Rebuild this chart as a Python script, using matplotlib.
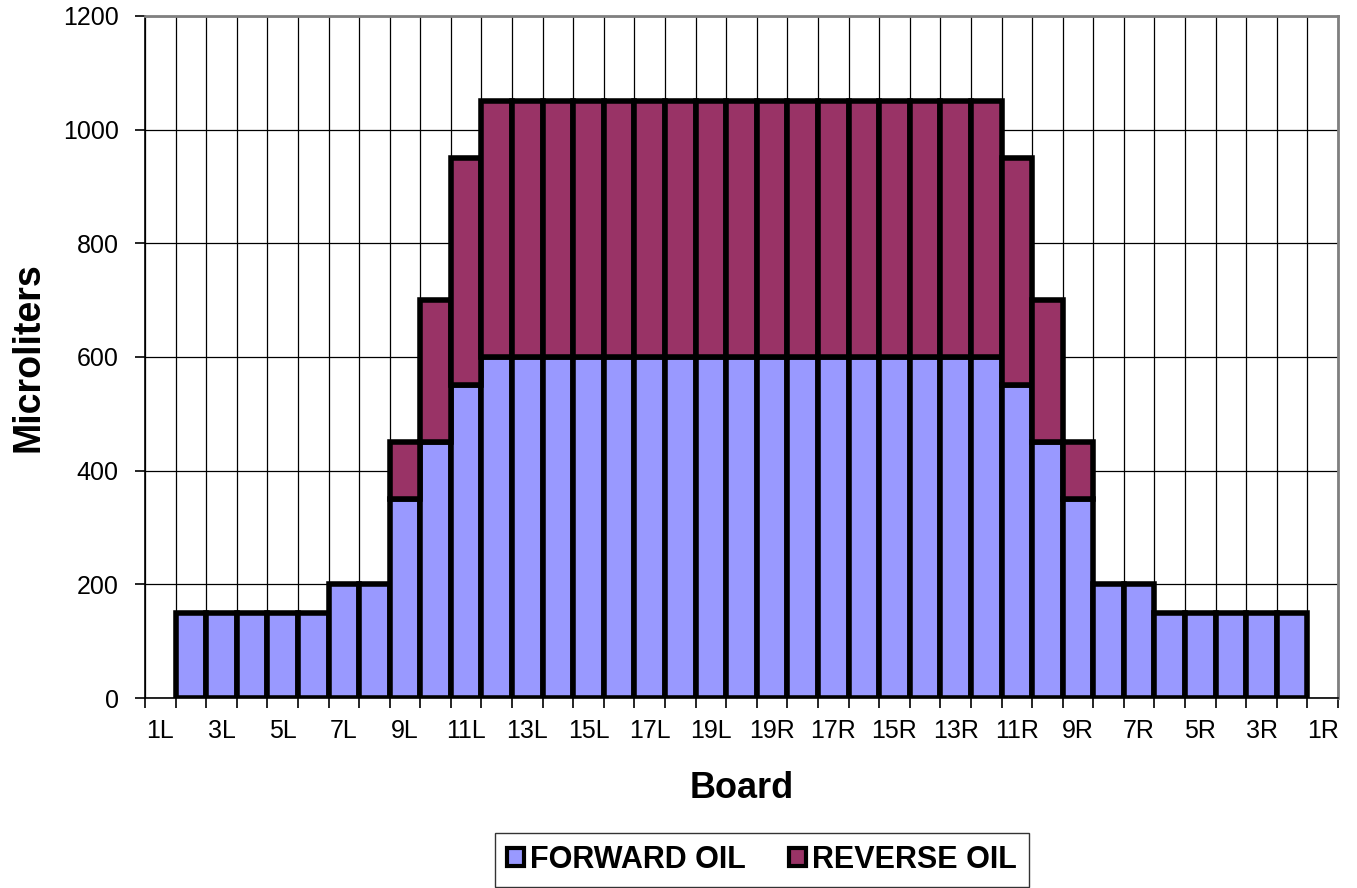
import matplotlib
matplotlib.use("Agg")
import matplotlib.pyplot as plt
import numpy as np
from matplotlib.patches import Patch

boards = [f"{i}L" for i in range(1, 20)] + ["20"] + [f"{i}R" for i in range(19, 0, -1)]
forward = [0, 150, 150, 150, 150, 150, 200, 200, 350, 450, 550] + [600] * 17 + \
          [550, 450, 350, 200, 200, 150, 150, 150, 150, 150, 0]
reverse = [0, 0, 0, 0, 0, 0, 0, 0, 100, 250, 400] + [450] * 17 + \
          [400, 250, 100, 0, 0, 0, 0, 0, 0, 0, 0]
series_names = ["FORWARD OIL", "REVERSE OIL"]
colors = ["#9999FF", "#993366"]

plt.rcParams['font.family'] = ['Liberation Sans', 'DejaVu Sans']
fig = plt.figure(figsize=(13.57, 8.88), dpi=100)
ax = fig.add_axes([145/1357, 1 - 698/888, (1338-145)/1357, (698-16)/888])

x = np.arange(len(boards))
f = np.array(forward, dtype=float)
r = np.array(reverse, dtype=float)
mask_f = f > 0
mask_r = r > 0
ax.bar(x[mask_f], f[mask_f], width=1.0, color=colors[0], edgecolor="black", linewidth=4, zorder=3)
ax.bar(x[mask_r], r[mask_r], bottom=f[mask_r], width=1.0, color=colors[1], edgecolor="black", linewidth=4, zorder=3)

ax.set_xlim(-0.5, len(boards) - 0.5)
ax.set_ylim(0, 1200)
ax.set_yticks(np.arange(0, 1201, 200))
ax.set_xticks(x[::2])
ax.set_xticklabels(boards[::2])
ax.set_xticks(np.arange(-0.5, len(boards), 1), minor=True)
ax.tick_params(axis='x', which='major', length=0, labelsize=18, pad=15)
ax.tick_params(axis='x', which='minor', length=7, width=1.2, direction='out')
ax.tick_params(axis='y', which='major', length=7, width=1.2, labelsize=18, pad=12)

ax.grid(True, axis='y', which='major', color='black', linewidth=0.9, zorder=0)
ax.grid(True, axis='x', which='minor', color='black', linewidth=0.9, zorder=0)
ax.set_axisbelow(True)

for s in ['top', 'right']:
    ax.spines[s].set_color('#808080')
    ax.spines[s].set_linewidth(2)
for s in ['left', 'bottom']:
    ax.spines[s].set_color('black')
    ax.spines[s].set_linewidth(1.2)

ax.set_xlabel("Board", fontsize=26, fontweight='bold', labelpad=20)
ax.set_ylabel("Microliters", fontsize=27, fontweight='bold', labelpad=12)

handles = [Patch(facecolor=c, edgecolor='black', linewidth=3) for c in colors]
leg = fig.legend(handles, series_names, loc='center', bbox_to_anchor=(762/1357, 1 - 860/888),
                 ncol=2, frameon=True, fancybox=False, edgecolor='black',
                 prop={'weight': 'bold', 'size': 22}, handlelength=0.55, handleheight=0.55,
                 handletextpad=0.2, columnspacing=1.4, borderpad=0.4, borderaxespad=0)
leg.get_frame().set_linewidth(1.0)

fig.savefig("out.png", dpi=100)
